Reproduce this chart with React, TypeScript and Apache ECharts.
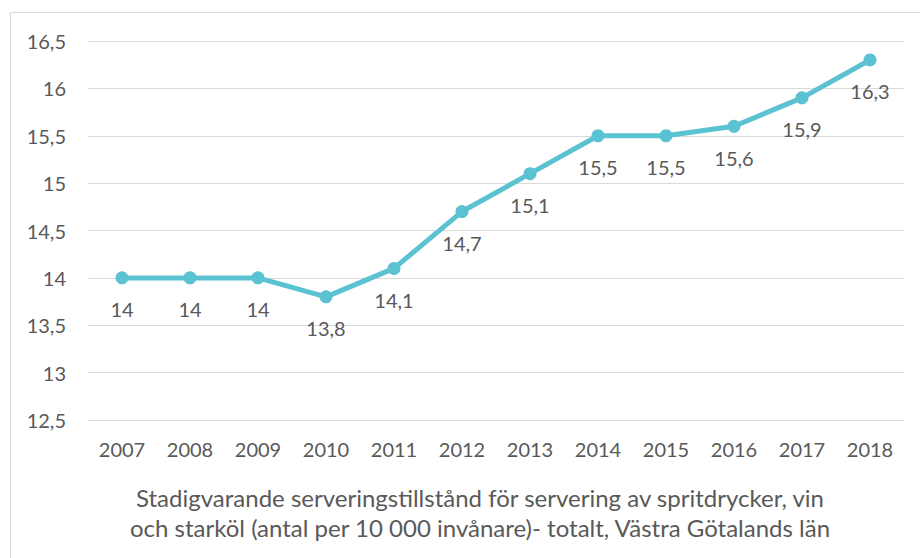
import React, { useEffect, useRef } from "react";
import * as echarts from "echarts";

const years = ["2007", "2008", "2009", "2010", "2011", "2012", "2013", "2014", "2015", "2016", "2017", "2018"];
const values = [14, 14, 14, 13.8, 14.1, 14.7, 15.1, 15.5, 15.5, 15.6, 15.9, 16.3];
const titleLines = [
  "Stadigvarande serveringstillstånd för servering av spritdrycker, vin",
  "och starköl (antal per 10 000 invånare)- totalt, Västra Götalands län",
];

const FONT = "Lato, 'Open Sans', sans-serif";
const TXT = "#595959";
const fmt = (v: number) => String(v).replace(".", ",");

export default function App() {
  const ref = useRef<HTMLDivElement>(null);
  useEffect(() => {
    const chart = echarts.init(ref.current!, null, { renderer: "svg" });
    chart.setOption({
      animation: false,
      backgroundColor: "#ffffff",
      textStyle: { fontFamily: FONT },
      grid: { left: 88, right: 16, top: 41, bottom: 138, containLabel: false },
      graphic: [
        {
          type: "rect",
          shape: { x: 10.5, y: 12.5, width: 940, height: 600 },
          style: { fill: "none", stroke: "#d9d9d9", lineWidth: 1 },
          silent: true,
        },
        {
          type: "text",
          x: 480,
          y: 482,
          style: {
            text: titleLines.join("\n"),
            font: `24px ${FONT}`,
            fill: TXT,
            textAlign: "center",
            lineHeight: 30,
          },
        },
      ],
      xAxis: {
        type: "category",
        data: years,
        boundaryGap: true,
        axisLine: { show: false },
        axisTick: { show: false },
        axisLabel: { color: TXT, fontSize: 20, margin: 19, fontFamily: FONT },
      },
      yAxis: {
        type: "value",
        min: 12.5,
        max: 16.5,
        interval: 0.5,
        axisLine: { show: false },
        axisTick: { show: false },
        splitLine: { lineStyle: { color: "#d9d9d9", width: 1 } },
        axisLabel: { color: TXT, fontSize: 20, margin: 22, fontFamily: FONT, formatter: (v: number) => fmt(v) },
      },
      series: [
        {
          type: "line",
          data: values,
          symbol: "circle",
          symbolSize: 13,
          lineStyle: { color: "#5BC2D2", width: 5 },
          itemStyle: { color: "#5BC2D2" },
          label: {
            show: true,
            position: "bottom",
            distance: 15,
            color: TXT,
            fontSize: 20,
            fontFamily: FONT,
            formatter: (p: any) => fmt(p.value),
          },
        },
      ],
    });
    return () => chart.dispose();
  }, []);
  return <div ref={ref} style={{ width: 920, height: 558, position: "absolute", left: 0, top: 0 }} />;
}
